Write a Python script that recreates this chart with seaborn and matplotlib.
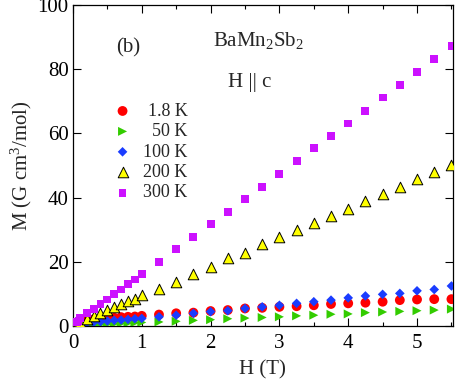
import types
import numpy as np
import matplotlib
matplotlib.use('Agg')
import matplotlib.pyplot as plt
import seaborn as sns
import pandas as pd
from matplotlib.ticker import MultipleLocator
from matplotlib.offsetbox import TextArea
from matplotlib.transforms import Bbox

# field (T)
H = [0.0, 0.02, 0.04, 0.06, 0.08, 0.1, 0.2, 0.3, 0.4, 0.5, 0.6, 0.7, 0.8, 0.9, 1.0,
     1.25, 1.5, 1.75, 2.0, 2.25, 2.5, 2.75, 3.0, 3.25, 3.5, 3.75, 4.0, 4.25, 4.5,
     4.75, 5.0, 5.25, 5.5]

# magnetization (G cm^3/mol)
M_1p8K = [0, 0.4, 0.8, 1.1, 1.3, 1.5, 1.9, 2.1, 2.3, 2.5, 2.6, 2.8, 2.9, 3.0, 3.2,
          3.6, 4.0, 4.2, 4.7, 5.0, 5.5, 5.7, 6.0, 6.2, 6.5, 6.9, 7.1, 7.3, 7.6,
          8.1, 8.3, 8.4, 8.4]
M_50K = [0, 0.05, 0.1, 0.15, 0.2, 0.25, 0.35, 0.45, 0.55, 0.65, 0.75, 0.85, 0.95, 1.05, 1.15,
         1.3, 1.5, 1.8, 2.0, 2.3, 2.5, 2.7, 2.9, 3.2, 3.4, 3.7, 3.8, 4.2, 4.4,
         4.6, 4.8, 5.0, 5.3]
M_100K = [0, 0.2, 0.4, 0.5, 0.6, 0.7, 1.0, 1.2, 1.4, 1.6, 1.8, 1.9, 2.1, 2.3, 2.4,
          2.9, 3.4, 4.0, 4.5, 4.8, 5.5, 6.0, 6.5, 7.1, 7.6, 8.1, 8.8, 9.4, 9.9,
          10.2, 11.0, 11.4, 12.5]
M_200K = [0, 0.3, 0.6, 0.8, 1.0, 1.2, 2.1, 3.1, 4.1, 5.0, 6.0, 6.8, 7.8, 8.6, 9.7,
          11.5, 13.8, 16.2, 18.3, 21.1, 22.8, 25.5, 27.6, 29.9, 32.0, 34.3, 36.5, 38.9, 41.0,
          43.2, 45.8, 48.1, 50.2]
M_300K = [0, 0.5, 0.9, 1.3, 1.7, 2.6, 4.0, 5.3, 6.8, 8.3, 9.9, 11.4, 13.0, 14.5, 16.2,
          19.9, 23.9, 27.8, 31.7, 35.5, 39.6, 43.3, 47.3, 51.4, 55.4, 59.3, 63.1, 67.1, 71.2,
          75.0, 79.2, 83.1, 87.2]

labels = ['1.8 K', '50 K', '100 K', '200 K', '300 K']

sns.set_theme(style='ticks')
plt.rcParams['font.family'] = ['Liberation Serif', 'DejaVu Serif']
plt.rcParams['mathtext.fontset'] = 'custom'
plt.rcParams['mathtext.rm'] = 'Liberation Serif'
plt.rcParams['mathtext.it'] = 'Liberation Serif:italic'

fig = plt.figure(figsize=(4.56, 3.81), dpi=100)
ax = fig.add_axes([0.160, 0.144, 0.833, 0.843])

styles = [
    (M_1p8K, 'o', '#ff0000', 'none', 50),
    (M_50K, '>', '#33cc00', 'none', 42),
    (M_100K, 'D', '#1a3cff', 'none', 24),
    (M_200K, '^', '#ffff00', 'black', 58),
    (M_300K, 's', '#cc11ff', 'none', 32),
]
draw_order = [1, 0, 2, 3, 4]
for i in draw_order:
    m, mk, col, ec, s = styles[i]
    df = pd.DataFrame({'H': H, 'M': m})
    sns.scatterplot(data=df, x='H', y='M', marker=mk, color=col, s=s,
                    edgecolor=ec, linewidth=0.7 if ec != 'none' else 0,
                    ax=ax, label=labels[i], zorder=3)

h, l = ax.get_legend_handles_labels()
order = [l.index(lab) for lab in labels]
leg = ax.legend([h[k] for k in order], labels, loc='upper left',
                bbox_to_anchor=(0.064, 0.735), frameon=False, fontsize=13,
                handlelength=1.4, handletextpad=0.45,
                labelspacing=0.19, borderpad=0.2)

# right-align legend labels like the original (pad each label box on the left)
fig.canvas.draw()
renderer = fig.canvas.get_renderer()
areas = []
def collect(box):
    for c in box.get_children():
        if isinstance(c, TextArea):
            areas.append(c)
        elif hasattr(c, 'get_children'):
            collect(c)
collect(leg._legend_handle_box)
W = max(a.get_bbox(renderer).width for a in areas)
for a in areas:
    orig = a.get_bbox
    def padded(self, r, orig=orig):
        b = orig(r)
        dpi_scale = r.points_to_pixels(1.) / renderer.points_to_pixels(1.)
        extra = W * dpi_scale - b.width
        return Bbox.from_bounds(b.x0 - extra, b.y0, b.width + extra, b.height)
    a.get_bbox = types.MethodType(padded, a)

ax.set_xlim(0, 5.52)
ax.set_ylim(0, 100)
ax.xaxis.set_major_locator(MultipleLocator(1))
ax.xaxis.set_minor_locator(MultipleLocator(0.5))
ax.yaxis.set_major_locator(MultipleLocator(20))
ax.tick_params(which='both', direction='in', top=True, right=True,
               labelsize=15, colors='black')
ax.tick_params(axis='x', pad=6)
ax.tick_params(axis='y', pad=3)
ax.tick_params(which='major', length=6, width=0.8)
ax.tick_params(which='minor', length=3, width=0.8)
for sp in ax.spines.values():
    sp.set_linewidth(0.9)
    sp.set_color('black')

ax.set_xlabel('H (T)', fontsize=15, labelpad=5)
ax.set_ylabel('M (G cm$^3$/mol)', fontsize=15, labelpad=3)

ax.text(0.145, 0.865, '(b)', transform=ax.transAxes, fontsize=15,
        ha='center', va='center')
ax.text(0.487, 0.89, 'BaMn$_2$Sb$_2$', transform=ax.transAxes, fontsize=15,
        ha='center', va='center')
ax.text(0.466, 0.76, 'H || c', transform=ax.transAxes, fontsize=15,
        ha='center', va='center')

fig.savefig('out.png', dpi=100)
